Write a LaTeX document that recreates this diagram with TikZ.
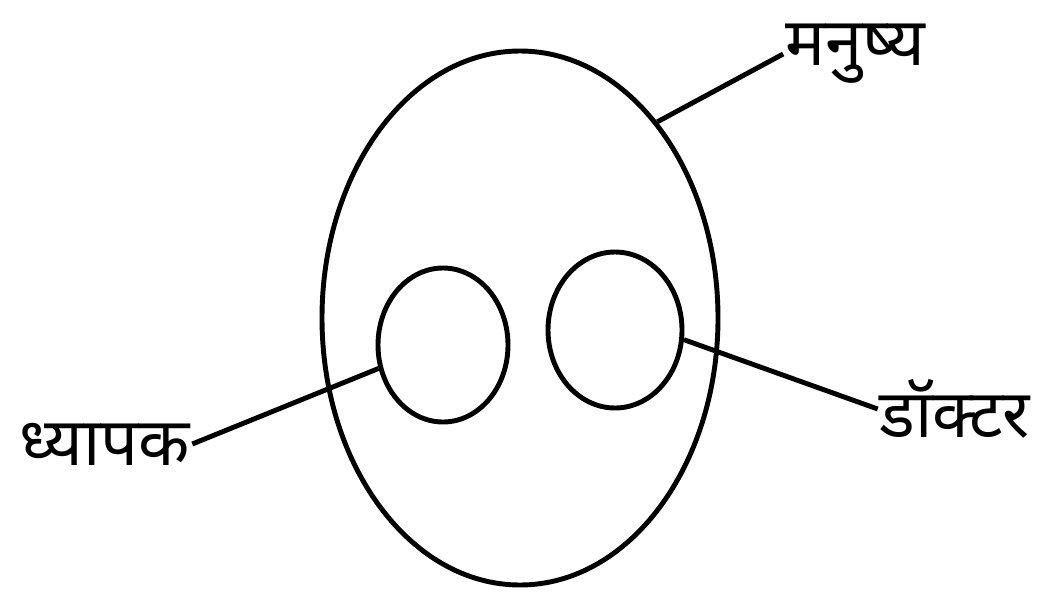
\documentclass[tikz,border=0pt]{standalone}
\usepackage{fontspec}
\newfontfamily\hindi[Script=Devanagari]{Noto Sans}
\usetikzlibrary{shapes.geometric}

\begin{document}
\begin{tikzpicture}[
  ring/.style={draw,ellipse,line width=2.8pt,inner sep=0pt},
  word/.style={font=\hindi\fontsize{38}{44}\selectfont,inner sep=1pt},
  edge/.style={line width=2.8pt}
]
  \useasboundingbox (0,0) rectangle (20.82,12.08);

  \node[ring,minimum width=7.92cm,minimum height=10.68cm] (human) at (10.4,5.72) {};
  \node[ring,minimum width=2.6cm,minimum height=3.08cm] (teacher) at (8.86,5.18) {};
  \node[ring,minimum width=2.68cm,minimum height=3.12cm] (doctor) at (12.3,5.48) {};

  \node[word] (lblhuman) at (17.1,11.0) {मनुष्य};
  \node[word] (lbldoctor) at (19.1,3.9) {डॉक्टर};
  \node[word] (lblteacher) at (2.1,3.2) {ध्यापक};

  \draw[edge] (human.55)--(lblhuman.west);
  \draw[edge] (doctor.-8)--(lbldoctor.west);
  \draw[edge] (teacher.200)--(lblteacher.east);
\end{tikzpicture}
\end{document}
